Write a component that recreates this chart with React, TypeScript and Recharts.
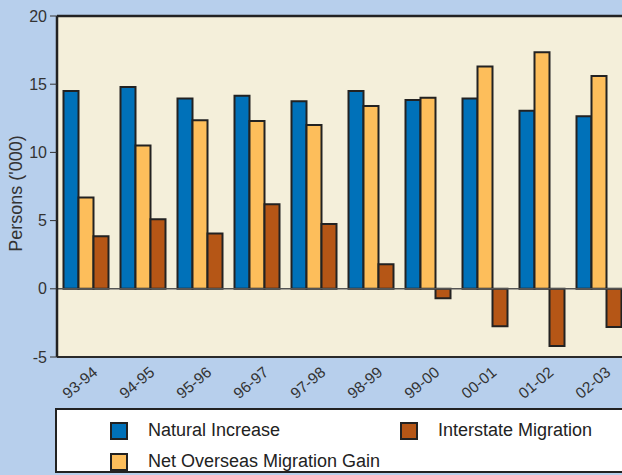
import React from "react";
import {
  BarChart,
  Bar,
  XAxis,
  YAxis,
  CartesianGrid,
  ReferenceLine,
} from "recharts";

const years = ["93-94", "94-95", "95-96", "96-97", "97-98", "98-99", "99-00", "00-01", "01-02", "02-03"];
const naturalIncrease = [14.5, 14.8, 13.95, 14.15, 13.75, 14.5, 13.85, 13.95, 13.05, 12.65];
const overseasGain = [6.7, 10.5, 12.35, 12.3, 12.0, 13.4, 14.0, 16.3, 17.35, 15.6];
const interstate = [3.85, 5.1, 4.05, 6.2, 4.75, 1.8, -0.7, -2.75, -4.2, -2.8];
const yTicks = [-5, 0, 5, 10, 15, 20];

const series = [
  { key: "natural", name: "Natural Increase", color: "#0071b9" },
  { key: "overseas", name: "Net Overseas Migration Gain", color: "#fdbe5b" },
  { key: "interstate", name: "Interstate Migration", color: "#b55616" },
];

const data = years.map((year, i) => ({
  year,
  natural: naturalIncrease[i],
  overseas: overseasGain[i],
  interstate: interstate[i],
}));

const FONT = '"Liberation Sans", Arial, sans-serif';

function YearTick(props: any) {
  const { x, y, payload } = props;
  const tx = x + 13;
  const ty = y + 9;
  return (
    <text
      x={tx}
      y={ty}
      transform={`rotate(-40, ${tx}, ${ty})`}
      textAnchor="end"
      fill="#333"
      fontSize={15.5}
      fontFamily={FONT}
    >
      {payload.value}
    </text>
  );
}

export default function App() {
  return (
    <div
      style={{
        position: "absolute",
        left: 0,
        top: 0,
        width: 622,
        height: 475,
        overflow: "hidden",
        background: "#b7cfec",
        fontFamily: FONT,
      }}
    >
      <BarChart
        width={640}
        height={475}
        data={data}
        margin={{ top: 16, right: 13, left: 0, bottom: 0 }}
        barCategoryGap={6.5}
        barGap={0}
      >
        <CartesianGrid fill="#f4efda" horizontal={false} vertical={false} />
        <XAxis
          dataKey="year"
          height={118}
          tickLine={false}
          axisLine={{ stroke: "#2a2a2a", strokeWidth: 2 }}
          tick={<YearTick />}
          interval={0}
        />
        <YAxis
          width={57}
          domain={[-5, 20]}
          ticks={yTicks}
          tickSize={7}
          tickMargin={3}
          tickLine={{ stroke: "#333" }}
          axisLine={{ stroke: "#222", strokeWidth: 2.5 }}
          tick={{ fill: "#333", fontSize: 16, fontFamily: FONT }}
          label={{
            value: "Persons ('000)",
            angle: -90,
            position: "insideLeft",
            dx: 11,
            dy: 7,
            style: { textAnchor: "middle", fill: "#333", fontSize: 18, fontFamily: FONT },
          }}
        />
        <ReferenceLine y={20} stroke="#222" strokeWidth={2.5} />
        {series.map((s) => (
          <Bar
            key={s.key}
            dataKey={s.key}
            name={s.name}
            fill={s.color}
            stroke="#222"
            strokeWidth={2}
            isAnimationActive={false}
          />
        ))}
        <ReferenceLine y={0} stroke="#555" strokeWidth={1.5} />
      </BarChart>
      <div
        style={{
          position: "absolute",
          left: 55,
          top: 408,
          width: 600,
          height: 65,
          boxSizing: "border-box",
          border: "2px solid #222",
          background: "#fff",
        }}
      >
        {series.map((s, i) => {
          const pos = [
            { left: 53, top: 10 },
            { left: 53, top: 41 },
            { left: 343, top: 10 },
          ][i];
          return (
            <div
              key={s.key}
              style={{
                position: "absolute",
                left: pos.left,
                top: pos.top,
                display: "flex",
                alignItems: "center",
                whiteSpace: "nowrap",
              }}
            >
              <span
                style={{
                  display: "inline-block",
                  width: 14,
                  height: 14,
                  background: s.color,
                  border: "2px solid #222",
                  marginRight: 20,
                }}
              />
              <span style={{ fontSize: 18, color: "#222" }}>{s.name}</span>
            </div>
          );
        })}
      </div>
    </div>
  );
}
